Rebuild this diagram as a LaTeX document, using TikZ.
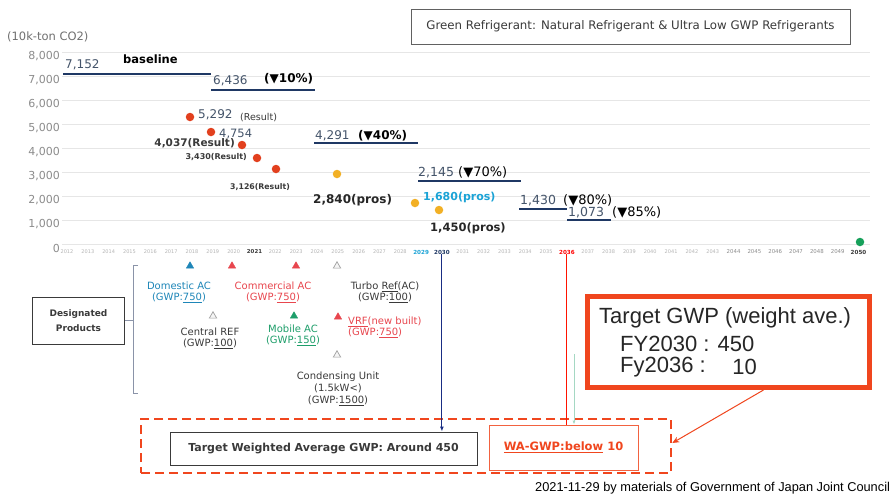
\documentclass[tikz,border=0pt]{standalone}
\usepackage{fontspec}
\setmainfont{DejaVu Sans}
\newfontfamily\arialf{Liberation Sans}
\usetikzlibrary{shapes.geometric,arrows.meta}
\definecolor{navyline}{HTML}{1F3864}
\definecolor{gridgray}{HTML}{E6E6E6}
\definecolor{axisgray}{HTML}{8C8C8C}
\definecolor{yeargray}{HTML}{B4B4B4}
\definecolor{numblue}{HTML}{44546A}
\definecolor{dotred}{HTML}{E2401E}
\definecolor{dotorange}{HTML}{F2B025}
\definecolor{dotgreen}{HTML}{16A05A}
\definecolor{cyantxt}{HTML}{1BA3D6}
\definecolor{domblue}{HTML}{1E86B8}
\definecolor{comred}{HTML}{E8464E}
\definecolor{mobgreen}{HTML}{1E9E6A}
\definecolor{frame}{HTML}{F0461E}
\definecolor{darktxt}{HTML}{3A3A3A}
\definecolor{bracketc}{HTML}{8A93A8}
\newcommand\fz[1]{\fontsize{#1}{#1}\selectfont}

\tikzset{
  gridline/.style={draw=gridgray, line width=0.9pt},
  ylab/.style={anchor=east, inner sep=0, text=axisgray, font=\fz{11}},
  yr/.style={inner sep=0, text=yeargray, font=\fz{5}},
  yrdark/.style={inner sep=0, text=axisgray, font=\fz{5.4}},
  tgt/.style={draw=navyline, line width=2.8pt},
  num/.style={anchor=base west, inner sep=0, text=numblue, font=\fz{12}},
  pct/.style={anchor=base west, inner sep=0, text=black, font=\bfseries\fz{12}},
  pctreg/.style={anchor=base west, inner sep=0, text=black, font=\fz{13}},
  lab/.style={anchor=west, inner sep=0},
  dot/.style={circle, inner sep=0, minimum size=8.5pt},
  tri/.style={regular polygon, regular polygon sides=3, inner sep=0, minimum size=8.5pt},
  fulltri/.style={tri, fill=#1, draw=#1},
  opentri/.style={tri, draw=gray!75, fill=gray!8, line width=0.7pt},
  prod/.style={align=center, inner sep=0, font=\fontsize{10}{11.5}\selectfont},
  bracket/.style={draw=bracketc, line width=0.9pt},
}

\begin{document}
\begin{tikzpicture}[x=1pt,y=-1pt]
\useasboundingbox[fill=white] (0,0) rectangle (891,496);

% value grid and axis labels
\foreach \gy/\lab [count=\i] in {244/0,220/{1,000},196/{2,000},172/{3,000},148/{4,000},124/{5,000},100/{6,000},76/{7,000},52/{8,000}} {
  \draw[gridline] (62,\gy) -- (870,\gy);
  \node[ylab] (ylab\i) at (60,\gy+4) {\lab};
}
\node[lab, text=axisgray!80!black, font=\fz{11.5}] (unit) at (7,37) {(10k-ton CO2)};

% fiscal years
\foreach \yr in {2012,...,2020} {\pgfmathsetmacro\xx{67+(\yr-2012)*20.83}\node[yr] (yr\yr) at (\xx,252) {\yr};}
\foreach \yr in {2022,...,2028} {\pgfmathsetmacro\xx{67+(\yr-2012)*20.83}\node[yr] (yr\yr) at (\xx,252) {\yr};}
\foreach \yr in {2031,...,2035} {\pgfmathsetmacro\xx{67+(\yr-2012)*20.83}\node[yr] (yr\yr) at (\xx,252) {\yr};}
\foreach \yr in {2037,...,2043} {\pgfmathsetmacro\xx{67+(\yr-2012)*20.83}\node[yr] (yr\yr) at (\xx,252) {\yr};}
\foreach \yr in {2044,...,2049} {\pgfmathsetmacro\xx{67+(\yr-2012)*20.83}\node[yrdark] (yr\yr) at (\xx,252) {\yr};}
\node[yrdark, font=\bfseries\fz{5.4}, text=darktxt] (yr2021) at (254.5,252) {2021};
\node[yrdark, font=\bfseries\fz{5.6}, text=cyantxt] (yr2029) at (421.1,252) {2029};
\node[yrdark, font=\bfseries\fz{5.6}, text=navyline] (yr2030) at (441.9,252) {2030};
\node[yrdark, font=\bfseries\fz{5.6}, text=red] (yr2036) at (566.9,252) {2036};
\node[yrdark, font=\bfseries\fz{5.6}, text=darktxt] (yr2050) at (858.5,252) {2050};

% reduction targets
\draw[tgt] (63,74) -- (211,74);
\node[num] (l7152) at (65,68) {7,152};
\node[pct, font=\bfseries\fz{11.5}] (lbase) at (123,63) {baseline};
\draw[tgt] (211,90) -- (315,90);
\node[num] (l6436) at (213,84) {6,436};
\node[pct] (p10) at (264,82) {(▼10\%)};
\draw[tgt] (314,143) -- (418,143);
\node[num] (l4291) at (315,139) {4,291};
\node[pct] (p40) at (358,139) {(▼40\%)};
\draw[tgt] (418,181) -- (521,181);
\node[num, font=\fz{12.5}] (l2145) at (418,176) {2,145};
\node[pctreg] (p70) at (458,176) {(▼70\%)};
\draw[tgt] (519,209) -- (567,209);
\node[num, font=\fz{12.5}] (l1430) at (520,204) {1,430};
\node[pctreg] (p80) at (563,204) {(▼80\%)};
\draw[tgt] (567,220) -- (611,220);
\node[num, font=\fz{12.5}] (l1073) at (568,216) {1,073};
\node[pctreg] (p85) at (612,216) {(▼85\%)};

% results
\node[dot, fill=dotred] (r1) at (190,117) {};
\node[lab, text=numblue, font=\fz{12}] (t5292) at (198,115) {5,292};
\node[lab, text=darktxt, font=\fz{9.5}] (tres) at (240,118) {(Result)};
\node[dot, fill=dotred] (r2) at (211,132) {};
\node[lab, text=numblue, font=\fz{11.5}] (t4754) at (219,134) {4,754};
\node[dot, fill=dotred] (r3) at (242,145) {};
\node[anchor=east, inner sep=0, text=darktxt, font=\bfseries\fz{10.5}] (t4037) at (235,143) {4,037(Result)};
\node[dot, fill=dotred] (r4) at (257,158) {};
\node[anchor=east, inner sep=0, text=darktxt, font=\bfseries\fz{8}] (t3430) at (247,157) {3,430(Result)};
\node[dot, fill=dotred] (r5) at (276,169) {};
\node[lab, text=darktxt, font=\bfseries\fz{7.8}] (t3126) at (230,187) {3,126(Result)};

% prospects
\node[dot, fill=dotorange] (o1) at (337,174) {};
\node[lab, text=black!85, font=\bfseries\fz{12}] (t2840) at (313,200) {2,840(pros)};
\node[dot, fill=dotorange] (o2) at (415,203) {};
\node[lab, text=cyantxt, font=\bfseries\fz{11}] (t1680) at (423,197) {1,680(pros)};
\node[dot, fill=dotorange] (o3) at (439,210) {};
\node[lab, text=black!85, font=\bfseries\fz{11.5}] (t1450) at (430,228) {1,450(pros)};
\node[dot, fill=dotgreen] (g1) at (860,242) {};

% title box
\node[draw=darktxt!80, line width=0.8pt, minimum width=439pt, minimum height=35pt, font=\fz{11.8}, text=darktxt] (title) at (630.5,26.5) {Green Refrigerant: Natural Refrigerant \& Ultra Low GWP Refrigerants};

% designated products
\node[draw=darktxt, line width=1pt, minimum width=92pt, minimum height=47pt, align=center, text=darktxt, font=\bfseries\fontsize{9}{15}\selectfont] (dprod) at (78.5,320.5) {Designated\\Products};
\coordinate (brtop) at (133,265);
\coordinate (brbot) at (133,393);
\draw[bracket] ([xshift=5pt]brtop) -- (brtop) -- (brbot) -- ([xshift=5pt]brbot);
\draw[bracket] (dprod.east) -- (dprod.east -| brtop);

\node[fulltri=domblue] (tri1) at (190,266) {};
\node[fulltri=comred] (tri2) at (232,266) {};
\node[fulltri=comred] (tri3) at (296,266) {};
\node[opentri] (tri4) at (337,266) {};
\node[opentri] (tri5) at (213,316) {};
\node[fulltri=mobgreen] (tri6) at (294,316) {};
\node[fulltri=comred] (tri7) at (338,317) {};
\node[opentri] (tri8) at (337,355) {};

\node[prod, text=domblue] (pdom) at (179,292.5) {Domestic AC\\(GWP:\underline{750})};
\node[prod, text=comred] (pcom) at (273,292.5) {Commercial AC\\(GWP:\underline{750})};
\node[prod, text=darktxt] (pturbo) at (385,292.5) {Turbo \underline{Ref}(AC)\\(GWP:\underline{100})};
\node[prod, text=darktxt] (pcentral) at (210,338.5) {Central REF\\(GWP:\underline{100})};
\node[prod, text=mobgreen] (pmobile) at (293,335.5) {Mobile AC\\(GWP:\underline{150})};
\node[prod, text=comred, align=left, anchor=west] (pvrf) at (348,327.5) {\underline{VRF}(new built)\\(GWP:\underline{750})};
\node[prod, text=darktxt, font=\fontsize{10}{12}\selectfont] (pcond) at (338,389) {Condensing Unit\\(1.5kW<)\\(GWP:\underline{1500})};

% weighted average targets
\node[draw=frame, dash pattern=on 9pt off 5pt, line width=2.6pt, minimum width=530pt, minimum height=54pt] (dashbox) at (406,446) {};
\node[draw=darktxt, line width=1pt, minimum width=307pt, minimum height=33pt, text=darktxt, font=\bfseries\fz{11}] (tbox) at (323.5,448.5) {Target Weighted Average GWP: Around 450};
\node[draw=frame!85, line width=0.8pt, minimum width=149pt, minimum height=45pt, text=frame, font=\bfseries\fz{11.5}] (wabox) at (563.5,447.5) {\underline{WA-GWP:below} 10};

\draw[navyline!80!blue, line width=1pt, -{Latex[length=5pt,width=4pt]}] (yr2030.south) -- (tbox.north -| yr2030.south);
\draw[red!85!orange, line width=1pt] (yr2036.south) -- (wabox.north -| yr2036.south);
\coordinate (gtop) at (574,354);
\draw[mobgreen!40, line width=0.8pt, -{Latex[length=4pt,width=3pt]}] (gtop) -- (gtop |- wabox.north);

% weighted GWP summary
\node[draw=frame, line width=4pt, minimum width=283pt, minimum height=92pt] (gbox) at (728.5,342) {};
\draw[frame, line width=0.8pt] ([shift={(4.5pt,-4.5pt)}]gbox.north west) rectangle ([shift={(-4.5pt,4.5pt)}]gbox.south east);
\node[lab, font=\arialf\fz{22}, text=black!85] (g1t) at (599,318) {Target GWP (weight ave.)};
\node[lab, font=\arialf\fz{22}, text=black!85] (g2t) at (620,344) {FY2030 : 450};
\node[lab, font=\arialf\fz{22}, text=black!85] (g3t) at (620,367) {Fy2036 :};
\node[anchor=east, inner sep=0, font=\arialf\fz{22}, text=black!85] (g3v) at (757,367) {10};
\draw[frame, line width=1pt, -{Stealth[length=7pt,width=6pt]}] ([xshift=35pt]gbox.south) -- ([yshift=3pt]dashbox.east);

% source
\node[lab, font=\arialf\fz{12.8}, text=black] (foot) at (535,488) {2021-11-29 by materials of Government of Japan Joint Council};
\end{tikzpicture}
\end{document}
